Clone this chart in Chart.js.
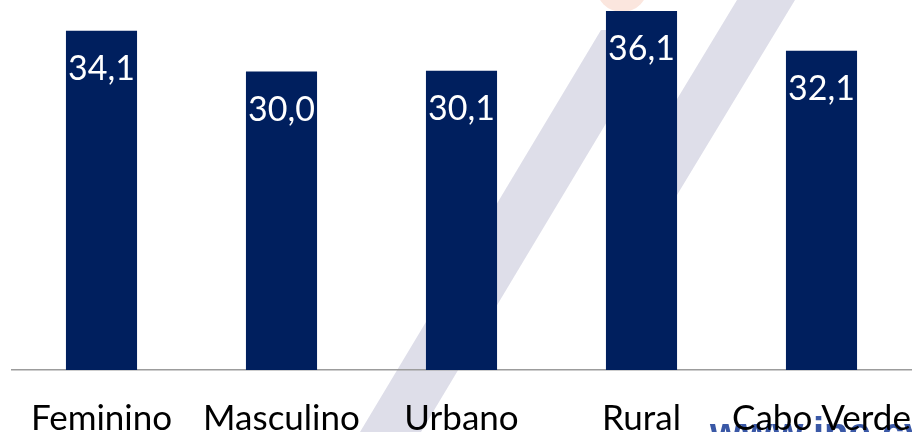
<!DOCTYPE html>
<html>
<head>
<meta charset="utf-8">
<script src="https://cdn.jsdelivr.net/npm/chart.js@4/dist/chart.umd.min.js"></script>
<style>
  html, body { margin: 0; padding: 0; background: #fff; }
  #wrap { width: 912px; height: 432px; }
</style>
</head>
<body>
<div id="wrap"><canvas id="chart"></canvas></div>
<script>
const categories = ["Feminino", "Masculino", "Urbano", "Rural", "Cabo Verde"];
const values = [34.1, 30.0, 30.1, 36.1, 32.1];
const valueLabels = ["34,1", "30,0", "30,1", "36,1", "32,1"];

const BAR = "#001f5e";

// faint site watermark behind the chart
const watermark = {
  id: "watermark",
  beforeDraw(chart) {
    const ctx = chart.ctx;
    ctx.save();
    ctx.fillStyle = "#fbe6de";
    ctx.beginPath();
    ctx.arc(622, -14, 26, 0, Math.PI * 2);
    ctx.fill();

    ctx.fillStyle = "#dedee9";
    ctx.beginPath();
    ctx.moveTo(360, 432);
    ctx.lineTo(421, 432);
    ctx.lineTo(662, 30);
    ctx.lineTo(601, 30);
    ctx.closePath();
    ctx.fill();

    ctx.beginPath();
    ctx.moveTo(737, 0);
    ctx.lineTo(795, 0);
    ctx.lineTo(677, 195);
    ctx.lineTo(619, 195);
    ctx.closePath();
    ctx.fill();

    ctx.fillStyle = "#3a58a6";
    ctx.font = "bold 40px 'Liberation Sans'";
    ctx.textAlign = "left";
    ctx.textBaseline = "alphabetic";
    ctx.fillText("www.ine.cv", 710, 446);
    ctx.restore();
  }
};

const barValues = {
  id: "barValues",
  afterDatasetsDraw(chart) {
    const ctx = chart.ctx;
    const meta = chart.getDatasetMeta(0);
    ctx.save();
    ctx.fillStyle = "#ffffff";
    ctx.font = "34px Lato";
    ctx.textAlign = "center";
    ctx.textBaseline = "alphabetic";
    meta.data.forEach((bar, i) => {
      ctx.fillText(valueLabels[i], bar.x, bar.y + 49);
    });
    ctx.restore();
  }
};

new Chart(document.getElementById("chart"), {
  type: "bar",
  data: {
    labels: categories,
    datasets: [{
      data: values,
      backgroundColor: BAR,
      borderWidth: 0,
      categoryPercentage: 1,
      barPercentage: 0.395
    }]
  },
  options: {
    responsive: true,
    maintainAspectRatio: false,
    animation: false,
    layout: { autoPadding: false, padding: { top: 2, left: 11.5, right: 0.5, bottom: 0 } },
    plugins: { legend: { display: false }, tooltip: { enabled: false } },
    scales: {
      x: {
        grid: { display: false, drawTicks: false },
        border: { display: true, color: "#9c9c9c", width: 1.5 },
        ticks: {
          color: "#000",
          font: { family: "Lato", size: 35 },
          padding: 28,
          maxRotation: 0,
          autoSkip: false
        },
        afterFit(scale) {
          scale.height = 62;
          scale.paddingLeft = 0;
          scale.paddingRight = 0;
        }
      },
      y: {
        display: false,
        min: 0,
        max: 37
      }
    }
  },
  plugins: [watermark, barValues]
});
</script>
</body>
</html>
